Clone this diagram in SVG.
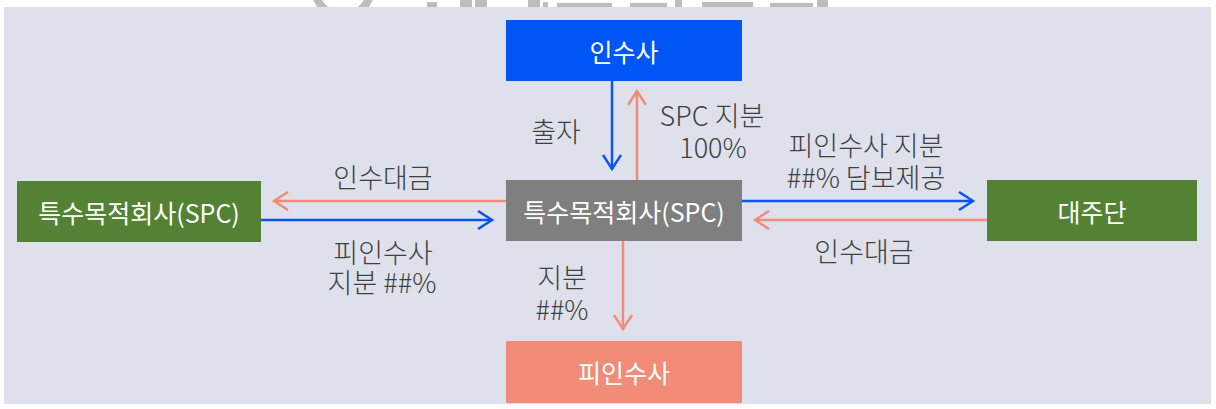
<svg xmlns="http://www.w3.org/2000/svg" width="1216" height="409" viewBox="0 0 1216 409">
<style>
.t{font-family:"Noto Sans CJK KR","Noto Sans",sans-serif;text-anchor:middle;dominant-baseline:central}
.n{fill:#ffffff;font-size:25px;font-weight:400}
.l{fill:#404040;font-size:27px;font-weight:300}
.cb{stroke:#0a55f0;stroke-width:2.5;fill:none}
.cs{stroke:#f28c78;stroke-width:2.5;fill:none}
.wm{fill:#bdbdbd}
</style>
<defs>
<marker id="ab" viewBox="0 0 20 20" refX="17" refY="10" markerWidth="20" markerHeight="20" markerUnits="userSpaceOnUse" orient="auto">
<path d="M3,1 L17,10 L3,19" fill="none" stroke="#0a55f0" stroke-width="2.5"/>
</marker>
<marker id="as" viewBox="0 0 20 20" refX="17" refY="10" markerWidth="20" markerHeight="20" markerUnits="userSpaceOnUse" orient="auto">
<path d="M3,1 L17,10 L3,19" fill="none" stroke="#f28c78" stroke-width="2.5"/>
</marker>
</defs>
<g id="watermark-fragments">
<circle cx="343" cy="-12" r="28" fill="none" stroke="#bdbdbd" stroke-width="8"/>
<rect class="wm" x="427" y="2" width="10" height="6"/>
<rect class="wm" x="460" y="0" width="12" height="8"/>
<rect class="wm" x="475" y="0" width="12" height="8"/>
<rect class="wm" x="528" y="0" width="12" height="8"/>
<rect class="wm" x="543" y="2" width="5" height="6"/>
<rect class="wm" x="557" y="3" width="55" height="5"/>
<rect class="wm" x="630" y="3" width="37" height="5"/>
<rect class="wm" x="675" y="0" width="7" height="8"/>
<rect class="wm" x="702" y="2" width="51" height="6"/>
<rect class="wm" x="770" y="3" width="43" height="5"/>
<rect class="wm" x="817" y="0" width="11" height="8"/>
</g>
<rect x="4" y="7" width="1207" height="397" fill="#dee1ec"/>
<g id="connectors">
<path class="cb" d="M612,81 V169" marker-end="url(#ab)"/>
<path class="cs" d="M637,180 V91" marker-end="url(#as)"/>
<path class="cs" d="M506,201 H274" marker-end="url(#as)"/>
<path class="cb" d="M261,220 H492" marker-end="url(#ab)"/>
<path class="cb" d="M742,201 H973" marker-end="url(#ab)"/>
<path class="cs" d="M987,220 H755" marker-end="url(#as)"/>
<path class="cs" d="M623,241 V329" marker-end="url(#as)"/>
<text class="t l" x="556" y="130">출자</text>
<text class="t l" x="712" y="114"><tspan x="712">SPC 지분</tspan><tspan x="713" dy="32">100%</tspan></text>
<text class="t l" x="383" y="176">인수대금</text>
<text class="t l" x="383" y="251"><tspan x="383">피인수사</tspan><tspan x="382" dy="30">지분 ##%</tspan></text>
<text class="t l" x="866" y="144"><tspan x="866">피인수사 지분</tspan><tspan x="866" dy="32">##% 담보제공</tspan></text>
<text class="t l" x="864" y="250">인수대금</text>
<text class="t l" x="562" y="276"><tspan x="562">지분</tspan><tspan x="562" dy="32">##%</tspan></text>
</g>
<g id="node-acquirer">
<rect x="506" y="20" width="236" height="61" fill="#0055f5"/>
<text class="t n" x="624" y="50.5">인수사</text>
</g>
<g id="node-spc-center">
<rect x="506" y="180" width="236" height="61" fill="#7f7f7f"/>
<text class="t n" x="624" y="210.5">특수목적회사(SPC)</text>
</g>
<g id="node-spc-left">
<rect x="17" y="181" width="244" height="61" fill="#548235"/>
<text class="t n" x="139" y="211.5">특수목적회사(SPC)</text>
</g>
<g id="node-lenders">
<rect x="987" y="180" width="210" height="61" fill="#548235"/>
<text class="t n" x="1092" y="210.5">대주단</text>
</g>
<g id="node-target">
<rect x="506" y="341" width="236" height="62" fill="#f08c78"/>
<text class="t n" x="624" y="372">피인수사</text>
</g>
</svg>
